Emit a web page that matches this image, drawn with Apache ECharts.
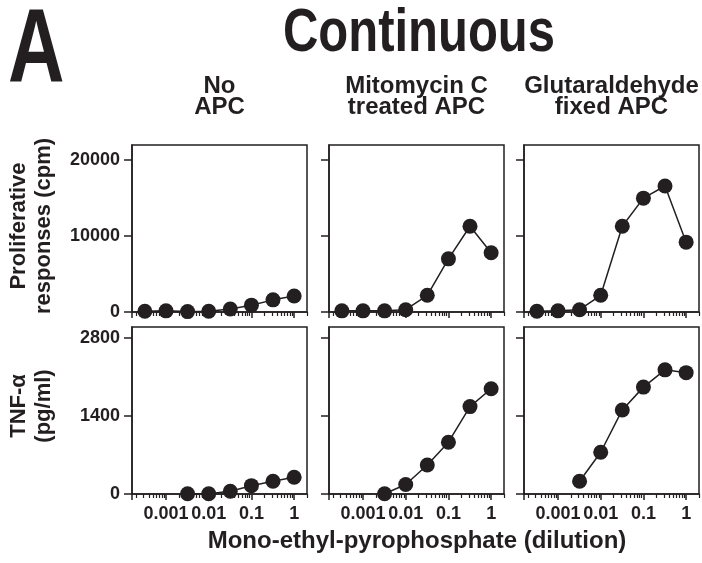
<!DOCTYPE html>
<html>
<head>
<meta charset="utf-8">
<style>html,body{margin:0;padding:0;background:#fff;}#c{width:702px;height:563px;}</style>
<script src="https://cdn.jsdelivr.net/npm/echarts@6/dist/echarts.min.js"></script>
</head>
<body>
<div id="c"></div>
<script>
// ---- data ----
const DILUTIONS_8 = [0.00032, 0.001, 0.0032, 0.01, 0.032, 0.1, 0.32, 1];
const DILUTIONS_6 = [0.0032, 0.01, 0.032, 0.1, 0.32, 1];
const PROLIF_NO_APC = [100, 150, 50, 100, 400, 900, 1600, 2100];
const PROLIF_MITO   = [150, 150, 150, 300, 2200, 7000, 11300, 7800];
const PROLIF_GLUT   = [100, 150, 300, 2200, 11300, 15000, 16600, 9200];
const TNF_NO_APC = [5, 5, 50, 150, 230, 300];
const TNF_MITO   = [5, 170, 520, 930, 1570, 1890];
const TNF_GLUT   = [230, 750, 1510, 1920, 2230, 2180];
const COLUMN_TITLES = [['No', 'APC'], ['Mitomycin C', 'treated APC'], ['Glutaraldehyde', 'fixed APC']];
const X_TICK_VALUES = [0.001, 0.01, 0.1, 1];
const X_TICK_LABELS = ['0.001', '0.01', '0.1', '1'];
const X_MINOR_MULT = [2, 3, 4, 5, 6, 7, 8, 9];
const X_MINOR_DECADES = [0.0001, 0.001, 0.01, 0.1, 1];
const PROLIF_TICKS = [0, 10000, 20000];
const TNF_TICKS = [0, 1400, 2800];
const X_MIN = 0.00016, X_MAX = 2;
const PROLIF_MAX = 22000, TNF_MAX = 3000;

// ---- layout ----
const INK = '#231f20';
const FONT = '"Liberation Sans", Arial, Helvetica, sans-serif';
const LEFTS = [132, 329, 524];
const TOPS = [145, 327];
const W = 175, H = 167;

const minorTicks = [];
X_MINOR_DECADES.forEach(d => X_MINOR_MULT.forEach(m => {
  const v = +(d * m).toPrecision(6);
  if (v >= X_MIN && v <= X_MAX) minorTicks.push(v);
}));

const rows = [
  { series: [PROLIF_NO_APC, PROLIF_MITO, PROLIF_GLUT], x: DILUTIONS_8, max: PROLIF_MAX, ticks: PROLIF_TICKS },
  { series: [TNF_NO_APC, TNF_MITO, TNF_GLUT], x: DILUTIONS_6, max: TNF_MAX, ticks: TNF_TICKS }
];

const lineStyle = { color: INK, width: 1.5 };
const grid = [], xAxis = [], yAxis = [], series = [];
rows.forEach((row, r) => {
  row.series.forEach((vals, c) => {
    const gi = grid.length;
    grid.push({ left: LEFTS[c], top: TOPS[r], width: W, height: H, show: true,
      borderColor: INK, borderWidth: 1.5, backgroundColor: 'transparent', containLabel: false });
    xAxis.push({
      type: 'log', logBase: 10, gridIndex: gi, min: X_MIN, max: X_MAX, position: 'bottom',
      axisLine: { show: true, lineStyle },
      axisTick: { show: true, length: 6, customValues: [X_MIN].concat(X_TICK_VALUES), lineStyle },
      axisLabel: { show: r === 1, customValues: X_TICK_VALUES, margin: 11,
        formatter: v => { const k = X_TICK_VALUES.findIndex(t => Math.abs(Math.log10(t) - Math.log10(v)) < 1e-6); return k >= 0 ? X_TICK_LABELS[k] : ''; },
        color: INK, fontSize: 18, fontWeight: 'bold', fontFamily: FONT },
      splitLine: { show: false }
    });
    xAxis.push({
      type: 'log', logBase: 10, gridIndex: gi, min: X_MIN, max: X_MAX, position: 'bottom', offset: 0,
      axisLine: { show: false },
      axisTick: { show: true, length: 4, customValues: minorTicks, lineStyle: { color: INK, width: 1.2 } },
      axisLabel: { show: false },
      splitLine: { show: false }
    });
    yAxis.push({
      type: 'value', gridIndex: gi, min: 0, max: row.max,
      axisLine: { show: true, lineStyle },
      axisTick: { show: true, length: 8, customValues: row.ticks, lineStyle },
      axisLabel: { show: c === 0, customValues: row.ticks, margin: 12, formatter: v => String(v),
        color: INK, fontSize: 18, fontWeight: 'bold', fontFamily: FONT },
      splitLine: { show: false }
    });
    series.push({
      type: 'line', xAxisIndex: 2 * gi, yAxisIndex: gi,
      data: row.x.map((d, k) => [d, vals[k]]),
      symbol: 'circle', symbolSize: 15, clip: false,
      itemStyle: { color: INK }, lineStyle: { color: INK, width: 1.5 }
    });
  });
});

const graphic = [];
function txt(text, x, y, size, opts) {
  opts = opts || {};
  graphic.push({ type: 'text', x, y, rotation: opts.rot || 0, scaleX: opts.sx || 1,
    style: { text, fill: INK, fontSize: size, fontWeight: 'bold', fontFamily: FONT,
      align: opts.align || 'center', verticalAlign: 'middle' } });
}
txt('A', 8, 53, 103, { align: 'left', sx: 0.76 });
txt('Continuous', 419, 34, 62, { sx: 0.79 });
const colCenters = LEFTS.map(l => l + W / 2);
COLUMN_TITLES.forEach((t, c) => {
  txt(t[0], colCenters[c], 86, 24);
  txt(t[1], colCenters[c], 107, 24);
});
txt('Proliferative', 19, 226, 22, { rot: Math.PI / 2 });
txt('responses (cpm)', 44, 226, 22, { rot: Math.PI / 2 });
txt('TNF-\u03b1', 19, 406, 22, { rot: Math.PI / 2 });
txt('(pg/ml)', 44, 406, 22, { rot: Math.PI / 2 });
txt('Mono-ethyl-pyrophosphate (dilution)', 417, 541, 24);

const chart = echarts.init(document.getElementById('c'), null, { renderer: 'canvas' });
chart.setOption({ animation: false, backgroundColor: '#fff', grid, xAxis, yAxis, series, graphic });
</script>
</body>
</html>
